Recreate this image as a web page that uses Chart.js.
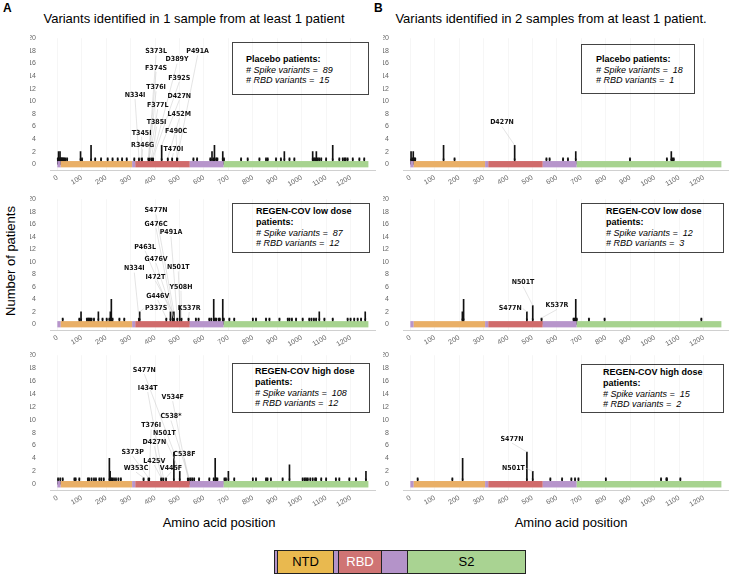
<!DOCTYPE html>
<html>
<head>
<meta charset="utf-8">
<script src="https://cdn.jsdelivr.net/npm/chart.js@4.4.1/dist/chart.umd.min.js"></script>
<style>
body { margin: 0; width: 738px; height: 576px; position: relative; overflow: hidden; background: #fff;
       font-family: 'Liberation Sans', Arial, Helvetica, sans-serif; color: #000; }
.t { position: absolute; white-space: pre; }
.c { position: absolute; white-space: pre; transform: translate(-50%, -50%); }
.box { position: absolute; border: 1px solid #444; box-sizing: border-box; font-size: 9px; line-height: 10.7px; white-space: pre; }
.box b { display: block; }
.box i { display: block; }
.seg { position: absolute; top: 550px; height: 24px; border: 1px solid #222; box-sizing: border-box;
       font-size: 13px; line-height: 22px; text-align: center; }
</style>
</head>
<body>

<div class="t" style="left:3px;top:1px;font-size:12px;font-weight:bold">A</div>
<div class="t" style="left:374px;top:1px;font-size:12px;font-weight:bold">B</div>
<div class="c" style="left:194px;top:18px;font-size:13px">Variants identified in 1 sample from at least 1 patient</div>
<div class="c" style="left:551px;top:18px;font-size:13px">Variants identified in 2 samples from at least 1 patient.</div>
<div class="c" style="left:10px;top:261px;font-size:13px;transform:translate(-50%,-50%) rotate(-90deg)">Number of patients</div>
<div class="c" style="left:219px;top:522px;font-size:13px">Amino acid position</div>
<div class="c" style="left:571px;top:522px;font-size:13px">Amino acid position</div>

<div class="box" style="left:232px;top:42px;width:137px;height:53px;padding:11px 0 0 13px"><b>Placebo patients:</b><i># Spike variants =  89</i><i># RBD variants =  15</i></div>
<div class="box" style="left:581px;top:44px;width:114px;height:50px;padding:9px 0 0 14px"><b>Placebo patients:</b><i># Spike variants =  18</i><i># RBD variants =  1</i></div>
<div class="box" style="left:232px;top:203px;width:138px;height:50px;padding:2px 0 0 23px;line-height:10.8px"><b>REGEN-COV low dose</b><b>patients:</b><i># Spike variants =  87</i><i># RBD variants =  12</i></div>
<div class="box" style="left:581px;top:203px;width:143px;height:50px;padding:2px 0 0 24px;line-height:10.8px"><b>REGEN-COV low dose</b><b>patients:</b><i># Spike variants =  12</i><i># RBD variants =  3</i></div>
<div class="box" style="left:232px;top:363px;width:138px;height:50px;padding:2px 0 0 22px;line-height:10.8px"><b>REGEN-COV high dose</b><b>patients:</b><i># Spike variants =  108</i><i># RBD variants =  12</i></div>
<div class="box" style="left:581px;top:364px;width:143px;height:49px;padding:2px 0 0 21px;line-height:10.8px"><b>REGEN-COV high dose</b><b>patients:</b><i># Spike variants =  15</i><i># RBD variants =  2</i></div>

<div class="seg" style="left:274px;width:4px;background:#b493c9"></div>
<div class="seg" style="left:277px;width:57px;background:#e9b94f">NTD</div>
<div class="seg" style="left:333px;width:6px;background:#b493c9"></div>
<div class="seg" style="left:338px;width:44px;background:#cf7474;color:#fff">RBD</div>
<div class="seg" style="left:381px;width:27px;background:#b493c9"></div>
<div class="seg" style="left:407px;width:119px;background:#a9d392">S2</div>

<script>
// axis ticks
const xTicks = [0, 100, 200, 300, 400, 500, 600, 700, 800, 900, 1000, 1100, 1200];
const yTicks = [0, 2, 4, 6, 8, 10, 12, 14, 16, 18, 20];

// spike domains (amino acid ranges)
const domainStart = [0, 14, 306, 319, 542, 681];
const domainEnd = [14, 306, 319, 542, 681, 1273];
const domainColor = ['#b795cb', '#e9af66', '#b795cb', '#d06b6b', '#b795cb', '#a7d38f'];

// variants found in 1 sample: placebo / low dose / high dose
const posA1 = [2, 5, 8, 11, 14, 17, 20, 24, 28, 33, 40, 95, 101, 138, 155, 179, 206, 226, 247, 265, 284,
  315, 334, 345, 346, 373, 374, 376, 377, 385, 389, 392, 427, 452, 470, 490, 491,
  557, 572, 626, 633, 640, 643, 650, 655, 677, 682, 752, 779, 827, 854, 861, 895, 915, 929, 950, 970,
  1045, 1050, 1055, 1060, 1066, 1072, 1080, 1100, 1127, 1154, 1168, 1175, 1180, 1188, 1209, 1236, 1256];
const cntA1 = [1, 2, 1, 2, 1, 1, 1, 1, 1, 1, 1, 2, 1, 3, 1, 1, 1, 1, 1, 1, 1,
  1, 1, 1, 1, 1, 1, 1, 1, 1, 1, 1, 3, 1, 1, 1, 1,
  1, 1, 1, 2, 1, 3, 1, 1, 2, 1, 1, 1, 1, 1, 1, 1, 1, 2, 1, 1,
  2, 1, 1, 2, 1, 1, 1, 1, 3, 1, 1, 1, 1, 1, 1, 1, 1];

const posA2 = [22, 90, 97, 121, 126, 130, 135, 140, 150, 168, 185, 202, 213, 217, 221, 226, 254, 274,
  334, 337, 446, 463, 472, 476, 477, 491, 501, 508, 537,
  567, 578, 622, 630, 640, 645, 650, 660, 665, 677, 681, 704, 724, 800, 813, 854, 868, 909,
  943, 950, 960, 977, 1004, 1031, 1040, 1050, 1059, 1072, 1093, 1127, 1188, 1200, 1215, 1229, 1243, 1260];
const cntA2 = [1, 1, 2, 1, 1, 1, 1, 1, 1, 2, 1, 1, 1, 2, 4, 1, 1, 1,
  1, 2, 1, 2, 2, 1, 2, 1, 3, 1, 1,
  1, 1, 1, 1, 4, 1, 1, 1, 1, 4, 1, 1, 1, 1, 1, 1, 1, 1,
  1, 1, 1, 1, 1, 1, 1, 1, 1, 2, 1, 1, 1, 1, 1, 1, 1, 2];

const posA3 = [3, 12, 22, 70, 75, 90, 125, 130, 140, 150, 158, 172, 180, 190, 213, 216, 220, 225, 232, 240, 250, 260,
  353, 373, 376, 425, 427, 434, 445, 477, 501, 534, 538,
  545, 552, 560, 580, 622, 640, 646, 650, 655, 684, 690, 700, 724, 800, 813, 854, 860, 874, 922, 950,
  1004, 1012, 1018, 1025, 1035, 1045, 1055, 1059, 1080, 1100, 1140, 1154, 1195, 1222, 1263];
const cntA3 = [1, 1, 1, 1, 1, 1, 1, 1, 1, 1, 1, 1, 1, 1, 4, 2, 1, 1, 1, 1, 1, 1,
  1, 1, 1, 1, 1, 1, 1, 5, 2, 1, 1,
  1, 1, 1, 1, 1, 1, 4, 1, 1, 1, 1, 2, 1, 1, 1, 1, 1, 1, 1, 3,
  1, 1, 1, 1, 1, 1, 1, 1, 1, 1, 1, 1, 1, 1, 2];

// variants found in 2 samples
const posB1 = [3, 8, 12, 16, 20, 136, 181, 427, 557, 570, 625, 645, 677, 899, 1050, 1068, 1072, 1078];
const cntB1 = [2, 1, 2, 1, 1, 3, 1, 3, 1, 1, 1, 1, 2, 1, 1, 2, 1, 1];
const posB2 = [213, 218, 477, 501, 537, 668, 672, 677, 681, 731, 795, 1191];
const cntB2 = [2, 4, 2, 3, 1, 1, 1, 4, 1, 1, 1, 1];
const posB3 = [30, 172, 214, 477, 501, 573, 621, 659, 674, 688, 800, 1026, 1048, 1050, 1105];
const cntB3 = [1, 1, 4, 5, 2, 1, 1, 1, 1, 1, 1, 1, 1, 1, 1];

// label placement [name, x (aa), y (patients)]
const calloutsA1 = [['S373L', 404, 17.9], ['P491A', 574, 17.9], ['D389Y', 490, 16.6], ['F374S', 404, 15.3],
  ['F392S', 499, 13.7], ['T376I', 404, 12.2], ['N334I', 318, 11], ['D427N', 499, 10.8], ['F377L', 411, 9.4],
  ['L452M', 499, 7.9], ['T385I', 406, 6.6], ['T345I', 345, 5.0], ['F490C', 486, 5.3], ['R346G', 349, 3.0], ['T470I', 475, 2.4]];
const calloutsA2 = [['S477N', 404, 18.2], ['G476C', 404, 16.0], ['P491A', 465, 14.7], ['P463L', 359, 12.4],
  ['G476V', 404, 10.4], ['N334I', 315, 8.9], ['N501T', 495, 9.1], ['I472T', 401, 7.6], ['Y508H', 506, 6.0],
  ['G446V', 411, 4.5], ['P337S', 404, 2.5], ['K537R', 540, 2.6]];
const calloutsA3 = [['S477N', 356, 17.7], ['I434T', 370, 14.9], ['V534F', 472, 13.5], ['C538*', 465, 10.5],
  ['T376I', 384, 9.1], ['N501T', 438, 7.9], ['D427N', 397, 6.5], ['S373P', 308, 5.0], ['C538F', 520, 4.6],
  ['L425V', 397, 3.6], ['W353C', 322, 2.5], ['V445F', 465, 2.5]];
const calloutsB1 = [['D427N', 375, 6.6]];
const calloutsB2 = [['N501T', 461, 6.7], ['S477N', 409, 2.5], ['K537R', 600, 3.0]];
const calloutsB3 = [['S477N', 416, 7.0], ['N501T', 422, 2.5]];

const domainBar = {
  id: 'domainBar',
  afterDatasetsDraw(chart) {
    const { ctx, scales: { x, y } } = chart;
    const top = y.getPixelForValue(0.5), bot = y.getPixelForValue(-0.5);
    ctx.save();
    for (let i = 0; i < domainStart.length; i++) {
      const a = x.getPixelForValue(domainStart[i]), b = x.getPixelForValue(domainEnd[i]);
      ctx.fillStyle = domainColor[i];
      ctx.fillRect(a, top, b - a, bot - top);
    }
    ctx.restore();
  }
};

const callouts = {
  id: 'callouts',
  afterDraw(chart, args, opts) {
    const { ctx, scales: { x, y } } = chart;
    const pos = opts.pos, cnt = opts.cnt;
    ctx.save();
    ctx.font = 'bold 7px "Liberation Sans Narrow", "DejaVu Sans Condensed", sans-serif';
    ctx.textAlign = 'center';
    ctx.textBaseline = 'middle';
    opts.items.forEach(function (c) {
      const aa = parseInt(c[0].slice(1, -1), 10);
      const k = pos.indexOf(aa);
      const n = k >= 0 ? cnt[k] : 1;
      const cx = x.getPixelForValue(c[1]), cy = y.getPixelForValue(c[2]);
      const tx = x.getPixelForValue(aa), ty = y.getPixelForValue(n);
      const w = ctx.measureText(c[0]).width;
      let sx = cx, sy = cy + 4;
      if (ty < cy + 6) {
        sy = cy;
        sx = tx > cx ? cx + w / 2 + 1 : cx - w / 2 - 1;
      }
      ctx.strokeStyle = '#c8c8c8';
      ctx.lineWidth = 0.5;
      ctx.beginPath();
      ctx.moveTo(sx, sy);
      ctx.lineTo(tx, ty);
      ctx.stroke();
      ctx.fillStyle = '#111';
      ctx.fillText(c[0], cx, cy);
    });
    ctx.restore();
  }
};

const panels = [
  { pos: posA1, cnt: cntA1, items: calloutsA1, left: 50, top: 38, bottom: 170.3 },
  { pos: posA2, cnt: cntA2, items: calloutsA2, left: 50, top: 199, bottom: 330.3 },
  { pos: posA3, cnt: cntA3, items: calloutsA3, left: 50, top: 355, bottom: 490.5 },
  { pos: posB1, cnt: cntB1, items: calloutsB1, left: 402.7, top: 38, bottom: 170.3 },
  { pos: posB2, cnt: cntB2, items: calloutsB2, left: 402.7, top: 199, bottom: 330.3 },
  { pos: posB3, cnt: cntB3, items: calloutsB3, left: 402.7, top: 355, bottom: 490.5 }
];
const plotWidth = 325;

panels.forEach(function (p) {
  const w = plotWidth, h = p.bottom - p.top;
  const wrap = document.createElement('div');
  wrap.style.cssText = 'position:absolute;left:0;top:0;width:' + (w + 80) + 'px;height:' + (h + 60) + 'px';
  const cv = document.createElement('canvas');
  wrap.appendChild(cv);
  document.body.appendChild(wrap);

  const chart = new Chart(cv, {
    type: 'bar',
    data: {
      datasets: [{
        type: 'bar',
        data: p.pos.map(function (v, i) { return { x: v, y: p.cnt[i] }; }),
        backgroundColor: '#111',
        barThickness: 1,
        grouped: false
      }, {
        type: 'scatter',
        data: p.pos.map(function (v) { return { x: v, y: 0.75 }; }),
        pointStyle: 'triangle',
        rotation: 180,
        radius: 1.4,
        backgroundColor: '#111',
        borderWidth: 0
      }]
    },
    options: {
      responsive: true,
      maintainAspectRatio: false,
      animation: false,
      layout: { padding: 0 },
      plugins: {
        legend: { display: false },
        tooltip: { enabled: false },
        callouts: { items: p.items, pos: p.pos, cnt: p.cnt }
      },
      scales: {
        x: {
          type: 'linear',
          min: -30,
          max: 1300,
          offset: false,
          afterBuildTicks: function (s) { s.ticks = xTicks.map(function (v) { return { value: v }; }); },
          afterFit: function (s) { s.height = 24; },
          grid: { color: 'rgba(0,0,0,0.035)', drawTicks: false, offset: false },
          border: { color: '#d0d0d0' },
          ticks: { minRotation: 30, maxRotation: 30, autoSkip: false, padding: 3, color: '#666',
                   callback: function (v) { return String(v); },
                   font: { size: 7, family: 'Liberation Sans' } }
        },
        y: {
          min: -1,
          max: 20,
          afterBuildTicks: function (s) { s.ticks = yTicks.map(function (v) { return { value: v }; }); },
          afterFit: function (s) { s.width = 20; },
          grid: { display: false },
          border: { display: false },
          ticks: { padding: 6, color: '#666', font: { size: 7, family: 'Liberation Sans' } }
        }
      }
    },
    plugins: [domainBar, callouts]
  });

  let a = chart.chartArea;
  const extraW = (w + 80) - (a.right - a.left);
  const extraH = (h + 60) - (a.bottom - a.top);
  wrap.style.width = (w + extraW) + 'px';
  wrap.style.height = (h + extraH) + 'px';
  chart.resize();
  a = chart.chartArea;
  wrap.style.left = (p.left - a.left) + 'px';
  wrap.style.top = (p.top - a.top) + 'px';
});
</script>
</body>
</html>
